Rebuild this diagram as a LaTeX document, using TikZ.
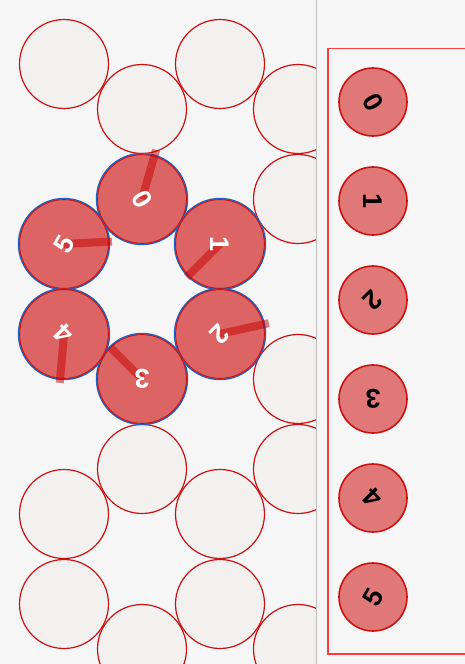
\documentclass[tikz,border=0pt]{standalone}
\usepackage{fontspec}
\usepackage{xcolor}
\usepackage{tikz}
\usetikzlibrary{positioning,calc}
\newfontfamily\digitos{Liberation Sans}
\definecolor{fundo}{HTML}{F6F6F6}
\definecolor{celfundo}{HTML}{F3F1F0}
\definecolor{vermelho}{HTML}{CC1111}
\definecolor{anelcor}{HTML}{DC6464}
\definecolor{azul}{HTML}{2060C0}
\definecolor{chavecor}{HTML}{E07878}
\definecolor{raiocor}{HTML}{C60000}
\definecolor{divisor}{HTML}{C0C0C0}
\definecolor{moldura}{HTML}{FF3B3B}
\tikzset{
  celula/.style={circle, minimum size=89pt, inner sep=0pt, fill=celfundo,
    draw=vermelho, line width=1.2pt},
  anel/.style={circle, minimum size=91pt, inner sep=0pt, fill=anelcor,
    draw=azul, line width=1.4pt},
  contorno/.style={draw=vermelho, line width=0.9pt},
  raio/.style={draw=raiocor, draw opacity=0.5, line width=8pt},
  chave/.style={circle, minimum size=68pt, inner sep=0pt, outer sep=0pt,
    fill=chavecor, draw=vermelho, line width=1.6pt},
  digito/.style={font=\digitos\bfseries\fontsize{27pt}{27pt}\selectfont, inner sep=0pt},
  quadro/.style={draw=moldura, line width=1.8pt},
}

\begin{document}
\begin{tikzpicture}[x=1pt, y=-1pt, node distance=31pt]
  \useasboundingbox (0,0) rectangle (465,664);
  \fill[fundo] (0,0) rectangle (465,664);
  % grelha hexagonal, com os buracos
  \begin{scope}
    \clip (0,0) rectangle (316.5,664);
    \foreach \c in {0,...,3}{
      \foreach \r in {0,...,6}{
        \pgfmathtruncatemacro{\fase}{mod(\r+2-mod(\c,2),3)}
        \pgfmathsetmacro{\cx}{64+78*\c}
        \pgfmathsetmacro{\cy}{64+90*\r+45*mod(\c,2)}
        \ifnum\fase>0
          \node[celula] (g-\c-\r) at (\cx,\cy) {};
        \fi
      }
    }
  \end{scope}
  % anel de seis
  \node[anel] (h0) at (g-1-1) {};
  \node[anel] (h1) at (g-2-2) {};
  \node[anel] (h2) at (g-2-3) {};
  \node[anel] (h3) at (g-1-3) {};
  \node[anel] (h4) at (g-0-3) {};
  \node[anel] (h5) at (g-0-2) {};
  \foreach \i/\a/\l/\rot in {0/-74/51/-60, 1/135/47/-90, 2/-12.5/50/-135,
      3/-135/45/180, 4/95/49/135, 5/-3/48/60}{
    \draw[contorno] (h\i.center) circle[radius=44.4];
    \path (h\i.center) ++(\a:\l) coordinate (p\i);
    \draw[raio] (h\i.center) -- (p\i);
    \node[digito, text=white, rotate=\rot] (t\i) at (h\i) {\i};
  }
  % painel da legenda
  \draw[divisor, line width=1.4pt] (316.5,0) -- (316.5,664);
  \begin{scope}
    \clip (318,0) rectangle (465,664);
    \draw[quadro] (328,48.5) rectangle (480,654);
  \end{scope}
  \node[chave] (k0) at (373,102) {};
  \node[chave, below=of k0] (k1) {};
  \node[chave, below=of k1] (k2) {};
  \node[chave, below=of k2] (k3) {};
  \node[chave, below=of k3] (k4) {};
  \node[chave, below=of k4] (k5) {};
  \node[digito, rotate=-60] (e0) at (k0) {0};
  \node[digito, rotate=-90] (e1) at (k1) {1};
  \node[digito, rotate=-135] (e2) at (k2) {2};
  \node[digito, rotate=180] (e3) at (k3) {3};
  \node[digito, rotate=135] (e4) at (k4) {4};
  \node[digito, rotate=60] (e5) at (k5) {5};
\end{tikzpicture}
\end{document}
